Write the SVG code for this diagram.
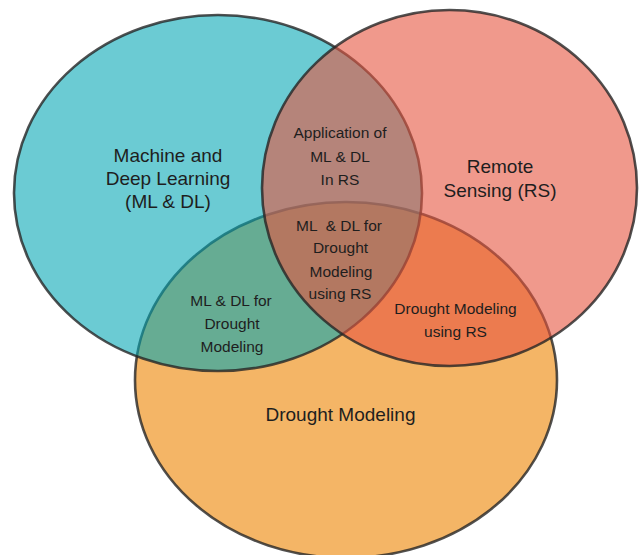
<svg xmlns="http://www.w3.org/2000/svg" width="644" height="555" viewBox="0 0 644 555">
  <style>
    .set { stroke: #262626; stroke-opacity: 0.8; stroke-width: 2.6; }
    .big { font-family: "Liberation Sans", Arial, sans-serif; font-size: 19px; fill: #1e1e1e; text-anchor: middle; }
    .small { font-family: "Liberation Sans", Arial, sans-serif; font-size: 15.5px; fill: #1e1e1e; text-anchor: middle; white-space: pre; }
  </style>
  <rect width="644" height="555" fill="#ffffff"/>
  <g id="drought-modeling">
    <ellipse class="set" cx="346" cy="380" rx="211" ry="178" fill="#f4b566"/>
  </g>
  <g id="ml-dl">
    <ellipse class="set" cx="218" cy="193" rx="204" ry="178" fill="#00a5b4" fill-opacity="0.58"/>
  </g>
  <g id="remote-sensing">
    <ellipse class="set" cx="449.5" cy="188" rx="187.5" ry="178" fill="#e6553f" fill-opacity="0.6"/>
  </g>
  <g id="connectors"></g>
  <g id="labels">
    <g id="label-ml-dl">
      <text class="big" x="168" y="162">Machine and</text>
      <text class="big" x="168" y="185">Deep Learning</text>
      <text class="big" x="168" y="208">(ML &amp; DL)</text>
    </g>
    <g id="label-rs">
      <text class="big" x="500" y="173">Remote</text>
      <text class="big" x="500" y="197">Sensing (RS)</text>
    </g>
    <g id="label-dm">
      <text class="big" x="340.5" y="420.5">Drought Modeling</text>
    </g>
    <g id="label-ml-rs">
      <text class="small" x="340" y="138">Application of</text>
      <text class="small" x="340" y="161.5">ML &amp; DL</text>
      <text class="small" x="340" y="185">In RS</text>
    </g>
    <g id="label-all">
      <text class="small" x="339" y="230.5">ML  &amp; DL for</text>
      <text class="small" x="340.5" y="253">Drought</text>
      <text class="small" x="341" y="276.5">Modeling</text>
      <text class="small" x="340" y="299">using RS</text>
    </g>
    <g id="label-ml-dm">
      <text class="small" x="231" y="306">ML &amp; DL for</text>
      <text class="small" x="232" y="328.5">Drought</text>
      <text class="small" x="232" y="351.5">Modeling</text>
    </g>
    <g id="label-rs-dm">
      <text class="small" x="455.5" y="314">Drought Modeling</text>
      <text class="small" x="455.5" y="336.5">using RS</text>
    </g>
  </g>
</svg>
